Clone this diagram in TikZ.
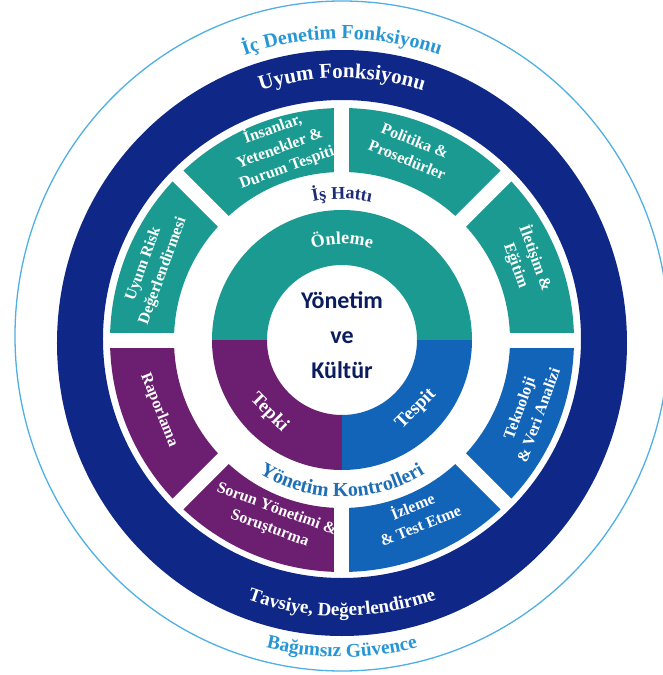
\documentclass[tikz,border=0pt]{standalone}
\usepackage{fontspec}
\setmainfont{Liberation Serif}
\newfontfamily\hubfont{Carlito}
\usetikzlibrary{decorations.text}
\definecolor{tealseg}{RGB}{26,154,144}
\definecolor{purpseg}{RGB}{108,30,112}
\definecolor{blueseg}{RGB}{18,100,185}
\definecolor{navyring}{RGB}{15,40,135}
\definecolor{skytext}{RGB}{38,150,212}
\definecolor{skyline}{RGB}{80,175,228}
\definecolor{hubtext}{RGB}{10,30,95}
\definecolor{linetext}{RGB}{28,45,115}
\definecolor{ctrltext}{RGB}{30,110,180}
\newcommand{\SegIn}{168}
\newcommand{\SegOut}{232}
\tikzset{
  seglabel/.style={text=white, font=\bfseries\fontsize{16}{20.5}\selectfont, align=center, inner sep=0pt},
  corelabel/.style={text=white, font=\bfseries\fontsize{19}{22}\selectfont, inner sep=0pt},
  gapline/.style={white, line width=15pt},
  hub/.style={text=hubtext, font=\hubfont\bfseries\fontsize{24}{35}\selectfont, align=center, inner sep=0pt}
}
% annular sector: start, end, inner r, outer r, colour
\newcommand{\Sector}[5]{%
  \fill[#5] (#1:#4pt) arc[start angle=#1, end angle=#2, radius=#4pt]
    -- (#2:#3pt) arc[start angle=#2, end angle=#1, radius=#3pt] -- cycle;}
% text on the upper arc (tops outward): radius, colour, size, text
\newcommand{\TopArcText}[4]{%
  \path[decorate, decoration={text along path, text align=center,
    text={|\bfseries\fontsize{#3}{#3}\selectfont\color{#2}|#4}}]
    (172:#1pt) arc[start angle=172, end angle=8, radius=#1pt];}
% text on the lower arc (tops inward)
\newcommand{\LowArcText}[4]{%
  \path[decorate, decoration={text along path, text align=center,
    text={|\bfseries\fontsize{#3}{#3}\selectfont\color{#2}|#4}}]
    (188:#1pt) arc[start angle=188, end angle=352, radius=#1pt];}

\begin{document}
\begin{tikzpicture}[x=1pt, y=1pt]
  \useasboundingbox (-342,-335) rectangle (320,340);
  % outer thin ring
  \draw[skyline, line width=1.3pt] (0,4) ellipse[x radius=327pt, y radius=335pt];
  % navy ring
  \fill[navyring, even odd rule] (0,-3) ellipse[x radius=285pt, y radius=293pt]
    (0,1) circle[radius=239pt];
  % segment ring
  \foreach \a in {0,45,90,135}{\Sector{\a}{\a+45}{\SegIn}{\SegOut}{tealseg}}
  \Sector{180}{270}{\SegIn}{\SegOut}{purpseg}
  \Sector{270}{360}{\SegIn}{\SegOut}{blueseg}
  \foreach \a in {0,45,...,315}{\draw[gapline] (\a:158pt) -- (\a:236pt);}
  % core ring
  \Sector{0}{180}{75}{130}{tealseg}
  \Sector{180}{270}{75}{130}{purpseg}
  \Sector{270}{360}{75}{130}{blueseg}
  % ring titles
  \TopArcText{301}{skytext}{20}{İç Denetim Fonksiyonu}
  \TopArcText{262}{white}{21}{Uyum Fonksiyonu}
  \LowArcText{276}{white}{19}{Tavsiye, Değerlendirme}
  \LowArcText{317}{skytext}{19.5}{Bağımsız Güvence}
  \TopArcText{141}{linetext}{18}{İş Hattı}
  \LowArcText{157}{ctrltext}{20}{Yönetim Kontrolleri}
  \TopArcText{96}{white}{18}{Önleme}
  % core labels
  \node[corelabel, rotate=-45] (tepki) at (225:103pt) {Tepki};
  \node[corelabel, rotate=45] (tespit) at (-43:101pt) {Tespit};
  \node[hub] (hub) at (0,5) {Yönetim\\ve\\Kültür};
  % segment labels
  \node[seglabel, rotate=70] (risk) at (159:202pt) {Uyum Risk\\Değerlendirmesi};
  \node[seglabel, rotate=20] (people) at (108:202pt) {İnsanlar,\\Yetenekler \&\\Durum Tespiti};
  \node[seglabel, rotate=-22] (policy) at (70:202pt) {Politika \&\\Prosedürler};
  \node[seglabel, rotate=-70] (comms) at (23:200pt) {İletişim \&\\Eğitim};
  \node[seglabel, rotate=-68] (report) at (201:196pt) {Raporlama};
  \node[seglabel, rotate=-20] (issue) at (249:192pt) {Sorun Yönetimi \&\\Soruşturma};
  \node[seglabel, rotate=22] (monitor) at (293:190pt) {İzleme\\\& Test Etme};
  \node[seglabel, rotate=70] (tech) at (339:200pt) {Teknoloji\\\& Veri Analizi};
\end{tikzpicture}
\end{document}
